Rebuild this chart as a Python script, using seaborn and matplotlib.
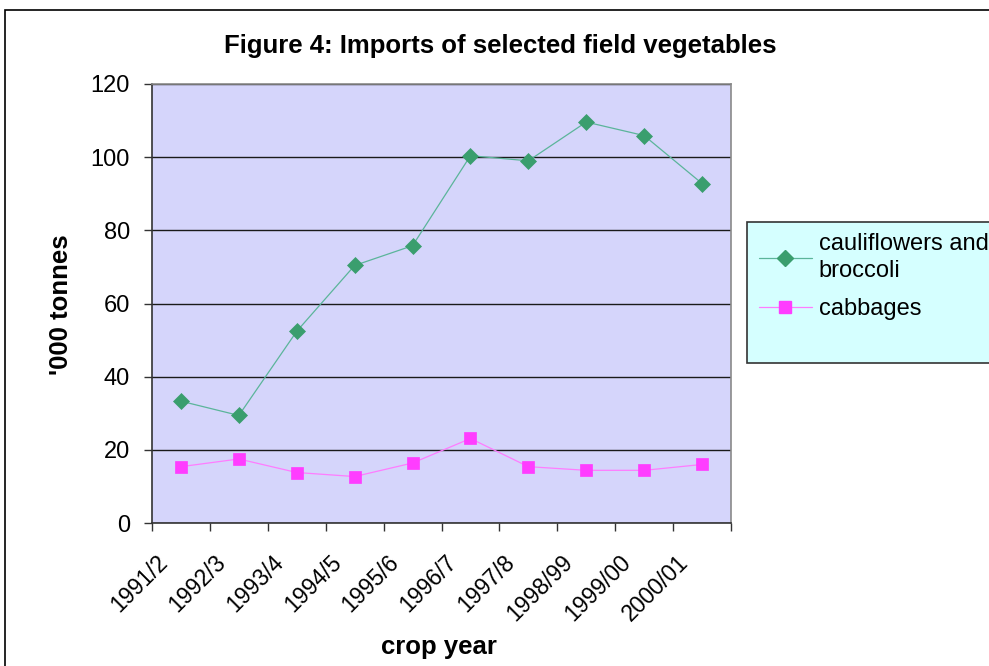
import matplotlib
matplotlib.use("Agg")
import matplotlib.pyplot as plt
from matplotlib.patches import Rectangle
from matplotlib.lines import Line2D
from matplotlib.transforms import ScaledTranslation
import numpy as np
import pandas as pd
import seaborn as sns

crop_years = ["1991/2", "1992/3", "1993/4", "1994/5", "1995/6",
              "1996/7", "1997/8", "1998/99", "1999/00", "2000/01"]
cauliflowers_broccoli = [33.3, 29.4, 52.4, 70.4, 75.8, 100.4, 99.0, 109.6, 105.9, 92.8]
cabbages = [15.4, 17.5, 13.8, 12.7, 16.4, 23.1, 15.4, 14.4, 14.4, 16.0]

series_names = ["cauliflowers and broccoli", "cabbages"]
legend_labels = ["cauliflowers and\nbroccoli", "cabbages"]
line_colors = {"cauliflowers and broccoli": "#5BB59A", "cabbages": "#FF7CFF"}
marker_colors = {"cauliflowers and broccoli": "#3A9E6E", "cabbages": "#FF3DFF"}
marker_shapes = {"cauliflowers and broccoli": "D", "cabbages": "s"}
marker_sizes = {"cauliflowers and broccoli": 8.0, "cabbages": 8.0}

df = pd.DataFrame({
    "idx": list(range(len(crop_years))) * 2,
    "value": cauliflowers_broccoli + cabbages,
    "series": [series_names[0]] * len(crop_years) + [series_names[1]] * len(crop_years),
})

sns.set_style("white")
plt.rcParams["font.family"] = ["Liberation Sans", "DejaVu Sans"]
plt.rcParams["text.color"] = "black"
plt.rcParams["xtick.color"] = "black"
plt.rcParams["ytick.color"] = "black"

W, H = 989, 666
fig = plt.figure(figsize=(W / 100, H / 100), dpi=100)
ax = fig.add_axes([152 / W, 1 - 523 / H, (731 - 152) / W, (523 - 84) / H])
ax.set_facecolor("#D5D5FB")

for name in series_names:
    sub = df[df["series"] == name]
    sns.lineplot(data=sub, x="idx", y="value", ax=ax, color=line_colors[name],
                 linewidth=0.9, marker=marker_shapes[name],
                 markersize=marker_sizes[name],
                 markerfacecolor=marker_colors[name],
                 markeredgecolor=marker_colors[name], markeredgewidth=0.5,
                 legend=False, zorder=3)

ax.set_xlim(-0.5, len(crop_years) - 0.5)
ax.set_ylim(0, 120)
ax.set_yticks(np.arange(0, 121, 20))
ax.yaxis.grid(True, color="#1a1a1a", linewidth=1.0)
ax.set_axisbelow(True)

# Category boundaries carry the tick marks; labels sit at the centres
ax.set_xticks(np.arange(-0.5, len(crop_years), 1.0))
ax.set_xticklabels([])
ax.tick_params(axis="x", which="major", length=6, width=1, color="#333333", direction="out")
ax.tick_params(axis="y", length=6, width=1, color="#333333", direction="out",
               labelsize=17, pad=10)
ax.tick_params(axis="both", bottom=True, left=True)

label_offset = ScaledTranslation(-25 / 100, -28 / 100, fig.dpi_scale_trans)
for i, year in enumerate(crop_years):
    ax.text(i, 0, year, transform=ax.get_xaxis_transform() + label_offset,
            rotation=45, rotation_mode="anchor", ha="right", va="top",
            fontsize=16.5, clip_on=False)

for side in ["left", "bottom"]:
    ax.spines[side].set_color("#333333")
    ax.spines[side].set_linewidth(1.2)
for side in ["top", "right"]:
    ax.spines[side].set_color("#8a8a8a")
    ax.spines[side].set_linewidth(1.2)

ax.set_xlabel("")
ax.set_ylabel("")
fig.text(439 / W, 1 - 647 / H, "crop year", fontsize=18.5, fontweight="bold",
         ha="center", va="center")
fig.text(61 / W, 1 - 305 / H, "'000 tonnes", fontsize=18.5, fontweight="bold",
         ha="center", va="center", rotation=90)
fig.text(500 / W, 1 - 46 / H, "Figure 4: Imports of selected field vegetables",
         fontsize=18.5, fontweight="bold", ha="center", va="center")

# Outer chart frame
fig.patches.append(Rectangle((5 / W, -0.1), 1.2, (1 - 10 / H) + 0.1,
                             transform=fig.transFigure, fill=False,
                             edgecolor="black", linewidth=1.2, zorder=0))

# Legend box
fig.patches.append(Rectangle((747 / W, 1 - 363 / H), 0.4, (363 - 222) / H,
                             transform=fig.transFigure, facecolor="#D5FFFF",
                             edgecolor="#333333", linewidth=1.2, zorder=1))
handles = [Line2D([0], [0], color=line_colors[n], linewidth=0.9,
                  marker=marker_shapes[n], markersize=marker_sizes[n],
                  markerfacecolor=marker_colors[n], markeredgecolor=marker_colors[n])
           for n in series_names]
leg = fig.legend(handles, legend_labels,
                 loc="upper left", bbox_to_anchor=(742 / W, 1 - 216 / H),
                 frameon=False, fontsize=17, handlelength=2.25, handletextpad=0.3,
                 labelspacing=0.65, borderpad=0.2)
for t in leg.get_texts():
    t.set_linespacing(1.35)

fig.savefig("out.png", dpi=100, facecolor="white")
